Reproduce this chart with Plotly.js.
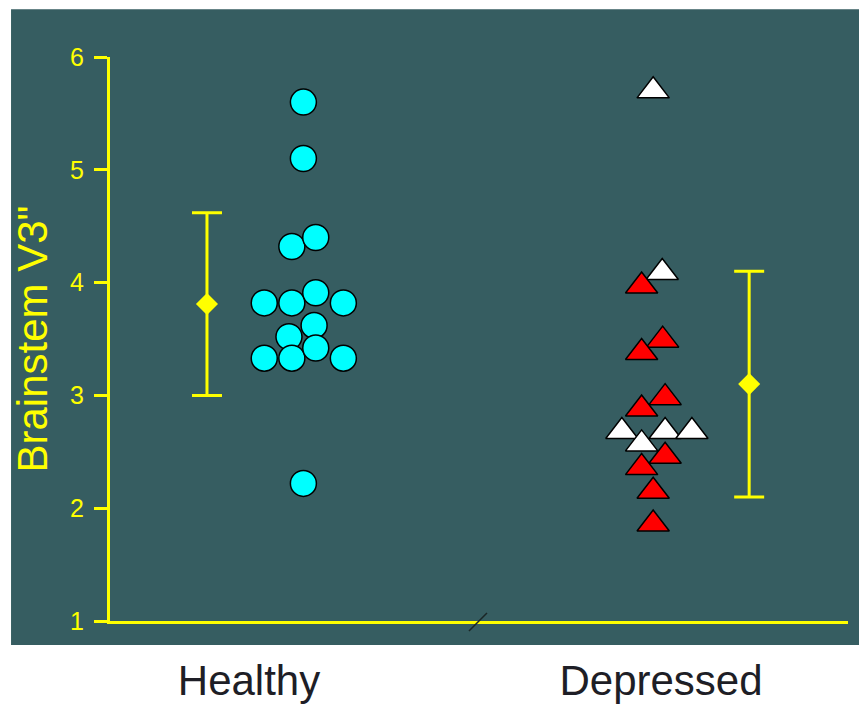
<!DOCTYPE html>
<html>
<head>
<meta charset="utf-8">
<script src="https://cdn.plot.ly/plotly-3.0.1.min.js"></script>
<style>
  html, body { margin: 0; padding: 0; background: #ffffff; }
  #chart { width: 859px; height: 705px; }
</style>
</head>
<body>
<div id="chart"></div>
<script>
// ---- data ----
const categories = ['Healthy', 'Depressed'];
const categoryPos = [1, 2];
const yTicks = [1, 2, 3, 4, 5, 6];
const yTitle = 'Brainstem V3"';

// Healthy group (cyan circles)
const healthyValues = [5.6, 5.1, 4.32, 4.40, 3.82, 3.82, 3.91, 3.82, 3.52, 3.62, 3.33, 3.33, 3.42, 3.33, 2.22];
const healthyJitter = [0.132, 0.132, 0.104, 0.162, 0.037, 0.104, 0.162, 0.229, 0.097, 0.158, 0.037, 0.104, 0.162, 0.229, 0.132];

// Depressed group, white triangles
const depWhiteValues = [5.70, 4.09, 2.68, 2.68, 2.68, 2.57];
const depWhiteJitter = [-0.019, 0.003, -0.095, 0.010, 0.075, -0.047];

// Depressed group, red triangles
const depRedValues = [3.97, 3.49, 3.38, 2.98, 2.88, 2.46, 2.36, 2.15, 1.86];
const depRedJitter = [-0.047, 0.004, -0.047, 0.010, -0.047, 0.010, -0.047, -0.019, -0.019];

// Group means and error half-widths
const groupMeans = [3.81, 3.10];
const groupErrors = [0.81, 1.00];
const meanOffsets = [-0.102, 0.214];

// ---- styles ----
const YELLOW = '#ffff00';
const BG = '#365d61';
const FONT = 'Liberation Sans, Arial, Helvetica, sans-serif';

const traces = [
  {
    type: 'scatter', mode: 'markers',
    x: healthyValues.map((v, i) => categoryPos[0] + healthyJitter[i]),
    y: healthyValues,
    marker: { symbol: 'circle', size: 26, color: '#00ffff', line: { color: '#000000', width: 1.5 } },
    cliponaxis: false, hoverinfo: 'skip'
  },
  {
    type: 'scatter', mode: 'markers',
    x: depWhiteValues.map((v, i) => categoryPos[1] + depWhiteJitter[i]),
    y: depWhiteValues,
    marker: { symbol: 'triangle-up', size: 28, color: '#ffffff', line: { color: '#000000', width: 1.5 } },
    cliponaxis: false, hoverinfo: 'skip'
  },
  {
    type: 'scatter', mode: 'markers',
    x: depRedValues.map((v, i) => categoryPos[1] + depRedJitter[i]),
    y: depRedValues,
    marker: { symbol: 'triangle-up', size: 28, color: '#ff0000', line: { color: '#000000', width: 1.5 } },
    cliponaxis: false, hoverinfo: 'skip'
  },
  {
    type: 'scatter', mode: 'markers',
    x: groupMeans.map((v, i) => categoryPos[i] + meanOffsets[i]),
    y: groupMeans,
    error_y: { type: 'data', array: groupErrors, visible: true, color: YELLOW, thickness: 3, width: 15 },
    marker: { symbol: 'diamond', size: 17, color: YELLOW, line: { width: 0 } },
    cliponaxis: false, hoverinfo: 'skip'
  }
];

const layout = {
  width: 859, height: 705,
  margin: { l: 110, r: 11, t: 57, b: 84 },
  paper_bgcolor: '#ffffff',
  plot_bgcolor: 'rgba(0,0,0,0)',
  showlegend: false,
  font: { family: FONT },
  xaxis: {
    range: [0.6626, 2.4539],
    tickvals: categoryPos, ticktext: categories,
    ticks: '', showgrid: false, zeroline: false,
    showline: true, linecolor: YELLOW, linewidth: 3,
    tickfont: { size: 42, color: '#1e1e26', family: FONT },
    ticklabelstandoff: 21
  },
  yaxis: {
    range: [1, 6],
    tickvals: yTicks,
    ticks: 'outside', ticklen: 13, tickwidth: 3, tickcolor: YELLOW,
    showgrid: false, zeroline: false,
    showline: true, linecolor: YELLOW, linewidth: 3,
    tickfont: { size: 25, color: YELLOW, family: FONT },
    ticklabelstandoff: 5,
    title: { text: yTitle, font: { size: 42, color: YELLOW, family: FONT }, standoff: 10 }
  },
  shapes: [
    { type: 'rect', xref: 'paper', yref: 'paper', x0: -0.1341, x1: 1.0149, y0: -0.0425, y1: 1.0845,
      fillcolor: BG, line: { width: 0 }, layer: 'below' },
    { type: 'line', xref: 'paper', yref: 'paper', x0: 0.4864, x1: 0.5108, y0: -0.0177, y1: 0.0142,
      line: { color: '#1a2626', width: 1.5 }, layer: 'above' }
  ]
};

Plotly.newPlot('chart', traces, layout, { displayModeBar: false, staticPlot: true });
</script>
</body>
</html>
